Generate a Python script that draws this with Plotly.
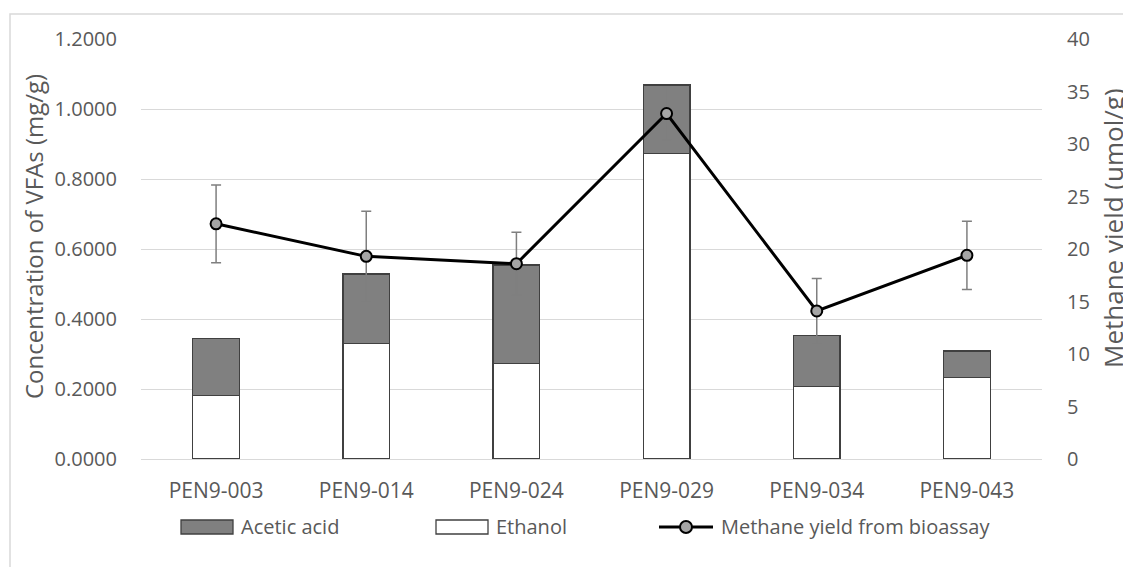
import plotly.graph_objects as go

categories = ["PEN9-003", "PEN9-014", "PEN9-024", "PEN9-029", "PEN9-034", "PEN9-043"]
ethanol = [0.181, 0.331, 0.272, 0.873, 0.207, 0.232]
acetic_acid = [0.164, 0.198, 0.282, 0.196, 0.146, 0.077]
methane_yield = [22.4, 19.3, 18.6, 32.9, 14.1, 19.4]
methane_err = [3.7, 4.3, 3.0, 2.5, 3.1, 3.25]
left_ticks = [0, 0.2, 0.4, 0.6, 0.8, 1.0, 1.2]
right_ticks = [0, 5, 10, 15, 20, 25, 30, 35, 40]

FONT = "Open Sans"
GREY_TXT = "#595959"
GRID = "#d9d9d9"
ACETIC = "#808080"
OUTLINE = "#404040"

W, H = 1131, 567
OFF = 8  # default page body margin
# plot area in window pixels
PL, PR, PT, PB = 141, 1042, 39, 459


def px(x):
    return (x - PL) / (PR - PL)


def py(y):
    return (PB - y) / (PB - PT)


fig = go.Figure()
fig.add_trace(go.Bar(
    x=categories, y=ethanol, name="Ethanol",
    marker=dict(color="white", line=dict(color=OUTLINE, width=1.3)),
))
fig.add_trace(go.Bar(
    x=categories, y=acetic_acid, name="Acetic acid",
    marker=dict(color=ACETIC, line=dict(color=OUTLINE, width=1.3)),
))
fig.add_trace(go.Scatter(
    x=categories, y=methane_yield, name="Methane yield from bioassay",
    yaxis="y2", mode="lines+markers",
    line=dict(color="black", width=3),
    marker=dict(size=11, color="#a5a5a5", line=dict(color="black", width=2)),
    error_y=dict(type="data", array=methane_err, visible=True,
                 color="#7f7f7f", thickness=1.5, width=5),
))

legend_y0, legend_y1, legend_yc = py(534), py(520), py(526)
shapes = [
    # chart frame
    dict(type="rect", xref="paper", yref="paper",
         x0=px(10), x1=px(1160), y0=py(600), y1=py(14),
         line=dict(color=GRID, width=1.5), fillcolor="rgba(0,0,0,0)", layer="below"),
    # legend symbols
    dict(type="rect", xref="paper", yref="paper", x0=px(181), x1=px(233),
         y0=legend_y0, y1=legend_y1, fillcolor=ACETIC, line=dict(color=OUTLINE, width=1.3)),
    dict(type="rect", xref="paper", yref="paper", x0=px(436), x1=px(488),
         y0=legend_y0, y1=legend_y1, fillcolor="white", line=dict(color=OUTLINE, width=1.3)),
    dict(type="line", xref="paper", yref="paper", x0=px(659), x1=px(713),
         y0=py(527), y1=py(527), line=dict(color="black", width=3)),
    dict(type="circle", xref="paper", yref="paper", x0=px(680), x1=px(692),
         y0=py(533), y1=py(521), fillcolor="#a5a5a5", line=dict(color="black", width=2)),
]

annotations = [
    dict(text="Acetic acid", xref="paper", yref="paper", x=px(239), y=legend_yc,
         xanchor="left", yanchor="middle", showarrow=False),
    dict(text="Ethanol", xref="paper", yref="paper", x=px(494), y=legend_yc,
         xanchor="left", yanchor="middle", showarrow=False),
    dict(text="Methane yield from bioassay", xref="paper", yref="paper", x=px(719), y=legend_yc,
         xanchor="left", yanchor="middle", showarrow=False),
    dict(text="Concentration of VFAs (mg/g)", xref="paper", yref="paper", x=px(33), y=py(237),
         xanchor="center", yanchor="middle", textangle=-90, showarrow=False,
         font=dict(size=24)),
    dict(text="Methane yield (umol/g)", xref="paper", yref="paper", x=px(1113), y=py(228),
         xanchor="center", yanchor="middle", textangle=-90, showarrow=False,
         font=dict(size=26)),
]

fig.update_layout(
    width=W, height=H,
    margin=dict(l=PL - OFF, r=W + OFF - PR, t=PT - OFF, b=H + OFF - PB),
    paper_bgcolor="white", plot_bgcolor="white",
    barmode="stack", bargap=0.69,
    font=dict(family=FONT, size=20, color=GREY_TXT),
    showlegend=False,
    xaxis=dict(showgrid=False, showline=False, ticks="outside", ticklen=13,
               tickcolor="rgba(0,0,0,0)", tickfont=dict(size=21, color=GREY_TXT)),
    yaxis=dict(range=[0, 1.2], tickvals=left_ticks, tickformat=".4f",
               showgrid=True, gridcolor=GRID, gridwidth=1, zeroline=True,
               zerolinecolor=GRID, zerolinewidth=1, showline=False,
               ticks="outside", ticklen=19, tickcolor="rgba(0,0,0,0)"),
    yaxis2=dict(range=[0, 40], tickvals=right_ticks, overlaying="y", side="right",
                showgrid=False, zeroline=False, showline=False,
                ticks="outside", ticklen=20, tickcolor="rgba(0,0,0,0)"),
    shapes=shapes,
    annotations=annotations,
)

fig.write_html("out.html")
